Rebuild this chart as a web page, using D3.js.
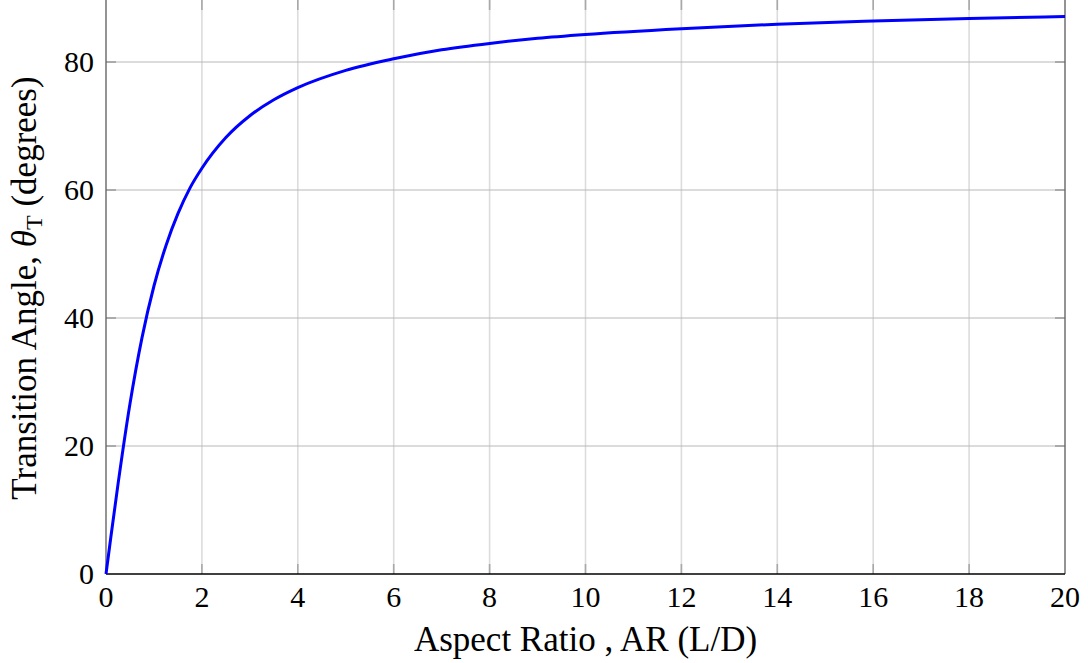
<!DOCTYPE html>
<html>
<head>
<meta charset="utf-8">
<script src="https://cdn.jsdelivr.net/npm/d3@7"></script>
<style>
  html, body { margin: 0; padding: 0; background: #fff; }
  svg { display: block; }
  text { font-family: "Liberation Serif", "DejaVu Serif", serif; fill: #000; }
</style>
</head>
<body>
<svg id="chart" width="1088" height="663"></svg>
<script>
// Aspect ratio (L/D) samples and the transition angle in degrees
const aspectRatio = [0, 0.1, 0.25, 0.5, 0.75, 1, 1.25, 1.5, 1.75, 2, 2.5, 3, 3.5, 4, 5, 6, 7, 8, 9, 10, 12, 14, 16, 18, 20];
const transitionAngle = [0, 5.7, 14.0, 26.6, 36.9, 45.0, 51.3, 56.3, 60.3, 63.4, 68.2, 71.6, 74.1, 76.0, 78.7, 80.5, 81.9, 82.9, 83.7, 84.3, 85.2, 85.9, 86.4, 86.8, 87.1];
const xTicks = [0, 2, 4, 6, 8, 10, 12, 14, 16, 18, 20];
const yTicks = [0, 20, 40, 60, 80];

const svg = d3.select("#chart");
const plotL = 106, plotR = 1065, plotT = -2, plotB = 574;

const x = d3.scaleLinear().domain([0, 20]).range([plotL, plotR]);
const y = d3.scaleLinear().domain([0, 90]).range([plotB, plotT]);

// grid
svg.append("g").selectAll("line").data(xTicks.slice(1, -1)).join("line")
  .attr("x1", d => x(d)).attr("x2", d => x(d))
  .attr("y1", plotT).attr("y2", plotB)
  .attr("stroke", "#dcdcdc").attr("stroke-width", 1.6);
svg.append("g").selectAll("line").data(yTicks.slice(1)).join("line")
  .attr("x1", plotL).attr("x2", plotR)
  .attr("y1", d => y(d)).attr("y2", d => y(d))
  .attr("stroke", "#b8b8b8").attr("stroke-width", 1);

// inner tick marks
const tickLen = 10;
const ticks = svg.append("g").attr("stroke", "#a8a8a8").attr("stroke-width", 1.6);
xTicks.slice(1, -1).forEach(d => {
  ticks.append("line").attr("x1", x(d)).attr("x2", x(d)).attr("y1", plotB).attr("y2", plotB - tickLen);
  ticks.append("line").attr("x1", x(d)).attr("x2", x(d)).attr("y1", plotT).attr("y2", plotT + tickLen + 2);
});
const yt = svg.append("g").attr("stroke", "#7a7a7a").attr("stroke-width", 1);
yTicks.slice(1).forEach(d => {
  yt.append("line").attr("x1", plotL).attr("x2", plotL + tickLen).attr("y1", y(d)).attr("y2", y(d));
  yt.append("line").attr("x1", plotR).attr("x2", plotR - tickLen).attr("y1", y(d)).attr("y2", y(d));
});

// frame
svg.append("line").attr("x1", plotL).attr("x2", plotL).attr("y1", plotT).attr("y2", plotB)
  .attr("stroke", "#666").attr("stroke-width", 1.4);
svg.append("line").attr("x1", plotR).attr("x2", plotR).attr("y1", plotT).attr("y2", plotB)
  .attr("stroke", "#666").attr("stroke-width", 1.4);
svg.append("line").attr("x1", plotL).attr("x2", plotR).attr("y1", plotB).attr("y2", plotB)
  .attr("stroke", "#000").attr("stroke-width", 1.4);

// curve
const pts = aspectRatio.map((a, i) => [a, transitionAngle[i]]);
svg.append("path").datum(pts)
  .attr("fill", "none").attr("stroke", "#0000ff").attr("stroke-width", 3)
  .attr("stroke-linejoin", "round")
  .attr("d", d3.line().x(d => x(d[0])).y(d => y(d[1])).curve(d3.curveMonotoneX));

// tick labels
const fs = 30, titleFs = 35;
svg.append("g").selectAll("text").data(xTicks).join("text")
  .attr("x", d => x(d)).attr("y", 607)
  .attr("text-anchor", "middle").attr("font-size", fs)
  .text(d => d);
svg.append("g").selectAll("text").data(yTicks).join("text")
  .attr("x", 94).attr("y", d => y(d) + 10)
  .attr("text-anchor", "end").attr("font-size", fs)
  .text(d => d);

// axis titles
svg.append("text").attr("x", (plotL + plotR) / 2).attr("y", 651)
  .attr("text-anchor", "middle").attr("font-size", titleFs)
  .text("Aspect Ratio , AR (L/D)");

const yTitle = svg.append("text")
  .attr("transform", `translate(36, 288) rotate(-90)`)
  .attr("text-anchor", "middle").attr("font-size", titleFs);
yTitle.append("tspan").text("Transition Angle, ");
yTitle.append("tspan").attr("font-style", "italic").text("θ");
yTitle.append("tspan").attr("font-size", 24).attr("dy", 6).text("T");
yTitle.append("tspan").attr("dy", -6).text(" (degrees)");
</script>
</body>
</html>
